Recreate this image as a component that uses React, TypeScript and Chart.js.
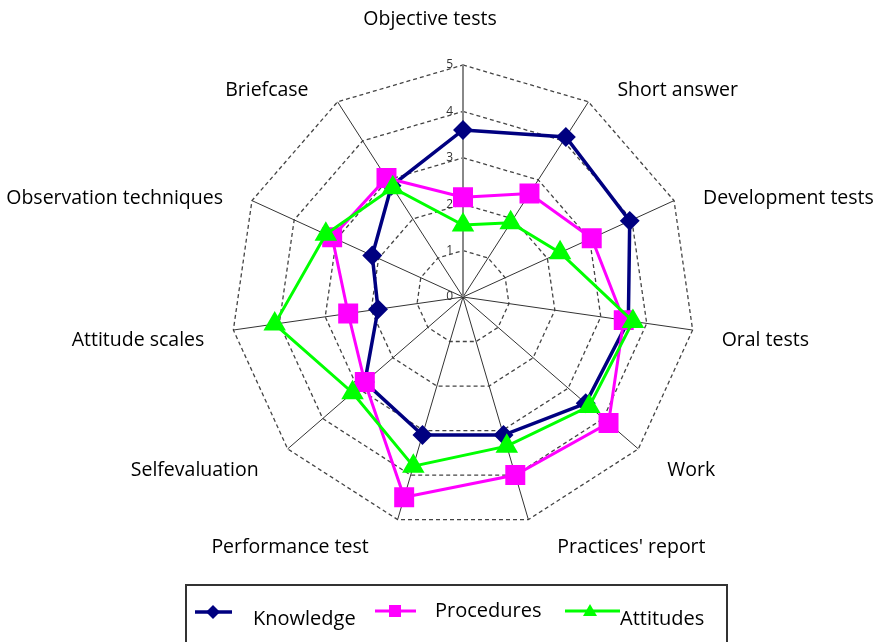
import React, { useEffect, useRef } from "react";
import { Chart, registerables } from "chart.js";

Chart.register(...registerables);

const categories = [
  "Objective tests",
  "Short answer",
  "Development tests",
  "Oral tests",
  "Work",
  "Practices' report",
  "Performance test",
  "Selfevaluation",
  "Attitude scales",
  "Observation techniques",
  "Briefcase",
];
const knowledge = [3.6, 4.1, 3.95, 3.6, 3.5, 3.1, 3.1, 2.8, 1.85, 2.15, 2.85];
const procedures = [2.15, 2.65, 3.05, 3.5, 4.15, 4.0, 4.5, 2.8, 2.5, 3.1, 3.05];
const attitudes = [1.55, 1.9, 2.3, 3.7, 3.6, 3.35, 3.8, 3.15, 4.1, 3.25, 2.8];
const tickValues = [0, 1, 2, 3, 4, 5];
const seriesNames = ["Knowledge", "Procedures", "Attitudes"];

const CX = 463;
const CY = 297;
const R = 232;
const FONT = "'Open Sans', 'Noto Sans', sans-serif";

const labelPlugin = {
  id: "customLabels",
  beforeDatasetsDraw(chart: any) {
    const s = chart.scales.r;
    const ctx = chart.ctx;
    ctx.save();
    ctx.font = `12px ${FONT}`;
    ctx.fillStyle = "#333";
    ctx.textAlign = "right";
    ctx.textBaseline = "middle";
    tickValues.forEach((v) => {
      const d = s.getDistanceFromCenterForValue(v);
      ctx.fillText(String(v), s.xCenter - 10, s.yCenter - d);
    });
    ctx.restore();
  },
  afterDraw(chart: any) {
    const s = chart.scales.r;
    const ctx = chart.ctx;
    ctx.save();
    ctx.font = `19.5px ${FONT}`;
    ctx.fillStyle = "#000";
    ctx.textBaseline = "middle";
    categories.forEach((c, i) => {
      const a = s.getIndexAngle(i);
      const sn = Math.sin(a);
      const cs = Math.cos(a);
      const p = s.getPointPosition(i, s.drawingArea);
      if (Math.abs(sn) < 0.1) {
        ctx.textAlign = "center";
        ctx.fillText(c, p.x - 33, p.y - 46);
      } else {
        const sign = sn > 0 ? 1 : -1;
        ctx.textAlign = sn > 0 ? "left" : "right";
        ctx.fillText(c, p.x + sign * 29, p.y + 7 - cs * 22);
      }
    });
    ctx.restore();
  },
};

export default function App() {
  const ref = useRef<HTMLCanvasElement | null>(null);

  useEffect(() => {
    if (!ref.current) return;
    const chart = new Chart(ref.current, {
      type: "radar",
      data: {
        labels: categories,
        datasets: [
          {
            label: seriesNames[0],
            data: knowledge,
            borderColor: "#000080",
            backgroundColor: "#000080",
            pointBackgroundColor: "#000080",
            pointBorderColor: "#000080",
            pointStyle: "rectRot",
            pointRadius: 7.5,
            borderWidth: 3.5,
            fill: false,
            order: 3,
            clip: false,
          } as any,
          {
            label: seriesNames[1],
            data: procedures,
            borderColor: "#FF00FF",
            backgroundColor: "#FF00FF",
            pointBackgroundColor: "#FF00FF",
            pointBorderColor: "#FF00FF",
            pointStyle: "rect",
            pointRadius: 12,
            borderWidth: 3,
            fill: false,
            order: 2,
            clip: false,
          } as any,
          {
            label: seriesNames[2],
            data: attitudes,
            borderColor: "#00FF00",
            backgroundColor: "#00FF00",
            pointBackgroundColor: "#00FF00",
            pointBorderColor: "#00FF00",
            pointStyle: "triangle",
            pointRadius: 10,
            borderWidth: 3,
            fill: false,
            order: 1,
            clip: false,
          } as any,
        ],
      },
      options: {
        responsive: false,
        animation: false,
        devicePixelRatio: 1,
        layout: { padding: 0 },
        elements: { line: { tension: 0 } },
        plugins: {
          legend: { display: false },
          tooltip: { enabled: false },
        },
        scales: {
          r: {
            min: 0,
            max: 5,
            ticks: { display: false, stepSize: 1 },
            pointLabels: { display: false },
            grid: { color: "#444", lineWidth: 1.3 },
            border: { dash: [4, 3] },
            angleLines: {
              color: (c: any) => (c.index === 0 ? "#888" : "#333"),
              lineWidth: (c: any) => (c.index === 0 ? 2 : 1),
            },
            afterFit: (s: any) => {
              s.xCenter = CX;
              s.yCenter = CY;
              s.drawingArea = R;
            },
          } as any,
        },
      } as any,
      plugins: [labelPlugin as any],
    });
    return () => chart.destroy();
  }, []);

  const textStyle: React.CSSProperties = {
    position: "absolute",
    fontFamily: FONT,
    fontSize: 20,
    lineHeight: "20px",
    color: "#000",
    whiteSpace: "nowrap",
  };

  return (
    <div
      style={{
        position: "absolute",
        left: 0,
        top: 0,
        width: 878,
        height: 642,
        overflow: "hidden",
        background: "#fff",
      }}
    >
      <canvas
        ref={ref}
        width={878}
        height={642}
        style={{ position: "absolute", left: 0, top: 0, width: 878, height: 642 }}
      />
      <div
        style={{
          position: "absolute",
          left: 185,
          top: 584,
          width: 543,
          height: 80,
          border: "2px solid #333",
          boxSizing: "border-box",
        }}
      />
      <svg
        width={878}
        height={642}
        style={{ position: "absolute", left: 0, top: 0, pointerEvents: "none" }}
      >
        <line x1={195} y1={612} x2={232} y2={612} stroke="#000080" strokeWidth={3.5} />
        <polygon points="213,605 220,612 213,619 206,612" fill="#000080" />
        <line x1={375} y1={611} x2={416} y2={611} stroke="#FF00FF" strokeWidth={3} />
        <rect x={389} y={605} width={12} height={12} fill="#FF00FF" />
        <line x1={565} y1={611} x2={620} y2={611} stroke="#00FF00" strokeWidth={3} />
        <polygon points="590,604 597,616 583,616" fill="#00FF00" />
      </svg>
      <span style={{ ...textStyle, left: 253, top: 608 }}>{seriesNames[0]}</span>
      <span style={{ ...textStyle, left: 435, top: 600 }}>{seriesNames[1]}</span>
      <span style={{ ...textStyle, left: 620, top: 608 }}>{seriesNames[2]}</span>
    </div>
  );
}
